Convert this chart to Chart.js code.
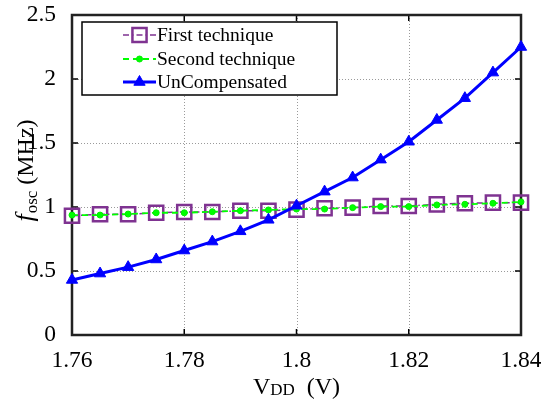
<!DOCTYPE html>
<html>
<head>
<meta charset="utf-8">
<script src="https://cdn.jsdelivr.net/npm/chart.js@4"></script>
<style>
  html, body { margin: 0; padding: 0; background: #fff; }
</style>
</head>
<body>
<canvas id="chart" width="541" height="405"></canvas>
<script>
// supply voltage (V)
const vdd = [1.76, 1.765, 1.77, 1.775, 1.78, 1.785, 1.79, 1.795, 1.80,
             1.805, 1.81, 1.815, 1.82, 1.825, 1.83, 1.835, 1.84];
// oscillation frequency (MHz)
const firstTechnique  = [0.932, 0.943, 0.943, 0.955, 0.961, 0.961, 0.971, 0.971, 0.980,
                         0.990, 0.995, 1.008, 1.008, 1.021, 1.029, 1.034, 1.034];
const secondTechnique = [0.937, 0.937, 0.945, 0.955, 0.955, 0.963, 0.971, 0.977, 0.984,
                         0.984, 0.995, 1.003, 1.003, 1.016, 1.021, 1.029, 1.040];
const unCompensated   = [0.43, 0.48, 0.53, 0.59, 0.66, 0.73, 0.81, 0.90, 1.01,
                         1.12, 1.23, 1.37, 1.51, 1.68, 1.85, 2.05, 2.25];
const seriesLabels = ['First technique', 'Second technique', 'UnCompensated'];
const xTicks = [1.76, 1.78, 1.8, 1.82, 1.84];
const yTicks = [0, 0.5, 1, 1.5, 2, 2.5];

const serif = 'Liberation Serif';
Chart.defaults.font.family = serif;
Chart.defaults.color = '#000';

const toPoints = ys => ys.map((y, i) => ({ x: vdd[i], y: y }));
const fmt = v => String(Number(v.toFixed(3)));

// dotted grid, black box and inward ticks, drawn under the data like matlab does
const framePlugin = {
  id: 'frame',
  beforeDatasetsDraw(chart) {
    const { ctx, chartArea: a, scales } = chart;
    ctx.save();
    // grid
    ctx.strokeStyle = '#9a9a9a';
    ctx.lineWidth = 1;
    ctx.setLineDash([1, 2]);
    ctx.beginPath();
    xTicks.forEach(v => {
      const x = Math.round(scales.x.getPixelForValue(v)) + 0.5;
      ctx.moveTo(x, a.top); ctx.lineTo(x, a.bottom);
    });
    yTicks.forEach(v => {
      const y = Math.round(scales.y.getPixelForValue(v)) + 0.5;
      ctx.moveTo(a.left, y); ctx.lineTo(a.right, y);
    });
    ctx.stroke();
    ctx.setLineDash([]);

    ctx.strokeStyle = '#000';
    ctx.lineWidth = 1.5;
    const t = 6;
    ctx.beginPath();
    xTicks.forEach(v => {
      const x = scales.x.getPixelForValue(v);
      ctx.moveTo(x, a.bottom); ctx.lineTo(x, a.bottom - t);
      ctx.moveTo(x, a.top); ctx.lineTo(x, a.top + t);
    });
    yTicks.forEach(v => {
      const y = scales.y.getPixelForValue(v);
      ctx.moveTo(a.left, y); ctx.lineTo(a.left + t, y);
      ctx.moveTo(a.right, y); ctx.lineTo(a.right - t, y);
    });
    ctx.stroke();
    ctx.lineWidth = 2.5;
    ctx.strokeStyle = '#222';
    ctx.strokeRect(a.left, a.top, a.right - a.left, a.bottom - a.top);
    ctx.restore();
  }
};

// axis titles with subscripts
const titlePlugin = {
  id: 'titles',
  afterDraw(chart) {
    const { ctx, chartArea: a } = chart;
    ctx.save();
    ctx.fillStyle = '#000';
    ctx.textBaseline = 'alphabetic';

    // x title: V_DD (V)
    const big = '24px "' + serif + '"';
    const sub = '17px "' + serif + '"';
    ctx.font = big; const w1 = ctx.measureText('V').width;
    ctx.font = sub; const w2 = ctx.measureText('DD').width;
    ctx.font = big; const w3 = ctx.measureText('  (V)').width;
    let x = (a.left + a.right) / 2 - (w1 + w2 + w3) / 2;
    const y = 394;
    ctx.font = big; ctx.fillText('V', x, y); x += w1;
    ctx.font = sub; ctx.fillText('DD', x, y + 1); x += w2;
    ctx.font = big; ctx.fillText('  (V)', x, y);

    // y title: f_osc (MHz), rotated
    ctx.translate(33, 171);
    ctx.rotate(-Math.PI / 2);
    const it = 'italic 26px "' + serif + '"';
    ctx.font = it; const u1 = ctx.measureText('f').width;
    ctx.font = sub; const u2 = ctx.measureText('osc').width;
    ctx.font = big; const u3 = ctx.measureText(' (MHz)').width;
    let p = -(u1 + u2 + u3) / 2;
    ctx.font = it; ctx.fillText('f', p, 0); p += u1 + 1;
    ctx.font = sub; ctx.fillText('osc', p, 4); p += u2;
    ctx.font = big; ctx.fillText(' (MHz)', p, 0);
    ctx.restore();
  }
};

// boxed legend in the upper left corner
const legendPlugin = {
  id: 'boxLegend',
  afterDraw(chart) {
    const { ctx } = chart;
    const bx = 82, by = 22, bw = 255, bh = 73;
    ctx.save();
    ctx.fillStyle = '#fff';
    ctx.fillRect(bx, by, bw, bh);
    ctx.strokeStyle = '#000';
    ctx.lineWidth = 1.5;
    ctx.strokeRect(bx, by, bw, bh);
    const rows = [35, 59, 82];
    chart.data.datasets.forEach((ds, i) => {
      const y = rows[i];
      ctx.save();
      ctx.strokeStyle = ds.borderColor;
      ctx.lineWidth = ds.borderWidth;
      ctx.setLineDash(ds.borderDash || []);
      ctx.beginPath();
      ctx.moveTo(123, y); ctx.lineTo(156, y);
      ctx.stroke();
      ctx.setLineDash([]);
      ctx.strokeStyle = ds.pointBorderColor;
      ctx.fillStyle = ds.pointBackgroundColor;
      ctx.lineWidth = ds.pointBorderWidth;
      Chart.helpers.drawPoint(ctx, {
        pointStyle: ds.pointStyle, radius: ds.pointRadius,
        borderWidth: ds.pointBorderWidth, rotation: 0
      }, 139.5, y);
      ctx.restore();
      ctx.fillStyle = '#000';
      ctx.font = '19.5px "' + serif + '"';
      ctx.textBaseline = 'middle';
      ctx.fillText(ds.label, 157, y + 1);
    });
    ctx.restore();
  }
};

new Chart(document.getElementById('chart').getContext('2d'), {
  type: 'line',
  data: {
    datasets: [
      {
        label: seriesLabels[0],
        data: toPoints(firstTechnique),
        borderColor: '#7f3391',
        borderWidth: 1.5,
        borderDash: [6, 3, 1.5, 3],
        pointStyle: 'rect',
        pointRadius: 10,
        pointBorderWidth: 2.5,
        pointBorderColor: '#7f3391',
        pointBackgroundColor: 'rgba(0,0,0,0)',
        order: 3
      },
      {
        label: seriesLabels[1],
        data: toPoints(secondTechnique),
        borderColor: '#00ff00',
        borderWidth: 1.8,
        borderDash: [6, 4],
        pointStyle: 'circle',
        pointRadius: 3,
        pointBorderWidth: 1,
        pointBorderColor: '#00ee00',
        pointBackgroundColor: '#00ff00',
        order: 2
      },
      {
        label: seriesLabels[2],
        data: toPoints(unCompensated),
        borderColor: '#0000ff',
        borderWidth: 3,
        pointStyle: 'triangle',
        pointRadius: 6.5,
        pointBorderWidth: 1,
        pointBorderColor: '#0000ff',
        pointBackgroundColor: '#0000ff',
        order: 1
      }
    ].map(d => Object.assign({ fill: false, tension: 0, clip: false }, d))
  },
  options: {
    responsive: false,
    animation: false,
    layout: { padding: { top: 15, right: 20, left: 0, bottom: 0 } },
    plugins: { legend: { display: false }, tooltip: { enabled: false } },
    scales: {
      x: {
        type: 'linear',
        min: 1.76, max: 1.84,
        afterBuildTicks: s => { s.ticks = xTicks.map(v => ({ value: v })); },
        afterFit: s => { s.height = 70; s.paddingLeft = 0; s.paddingRight = 0; },
        ticks: { font: { family: serif, size: 23.5 }, padding: 4, maxRotation: 0, callback: v => fmt(v) },
        grid: { display: false },
        border: { display: false }
      },
      y: {
        min: 0, max: 2.5,
        afterBuildTicks: s => { s.ticks = yTicks.map(v => ({ value: v })); },
        afterFit: s => { s.width = 72; s.paddingTop = 0; s.paddingBottom = 0; },
        ticks: { font: { family: serif, size: 23.5 }, padding: 8, callback: v => fmt(v) },
        grid: { display: false },
        border: { display: false }
      }
    }
  },
  plugins: [framePlugin, titlePlugin, legendPlugin]
});
</script>
</body>
</html>
